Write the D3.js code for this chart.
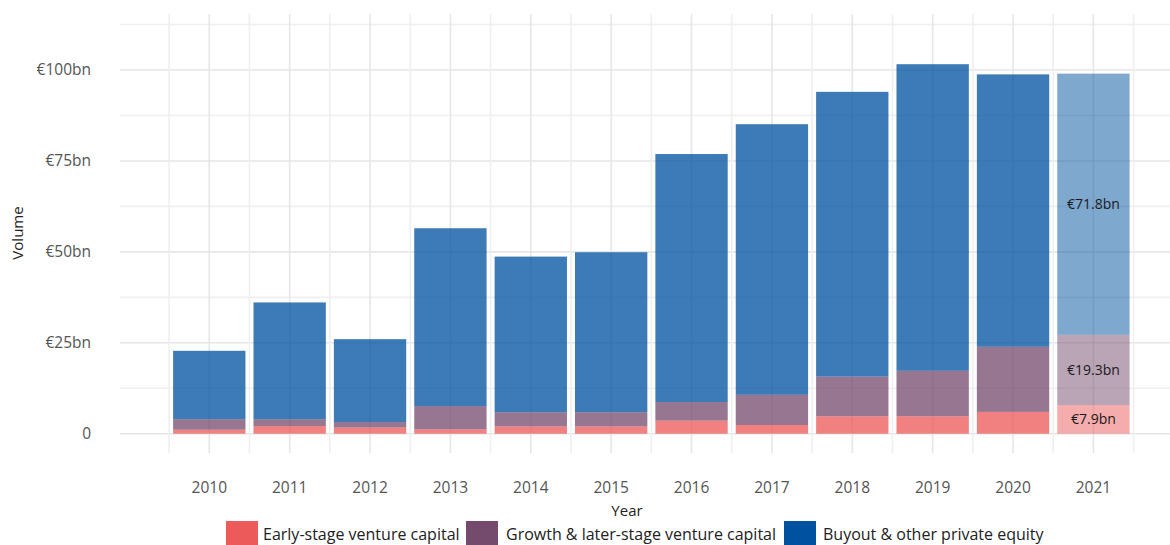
<!DOCTYPE html>
<html>
<head>
<meta charset="utf-8">
<script src="https://cdn.jsdelivr.net/npm/d3@7"></script>
<style>
  html, body { margin: 0; padding: 0; background: #fff; }
  svg { display: block; font-family: "Open Sans", "DejaVu Sans", sans-serif; }
</style>
</head>
<body>
<svg id="chart" width="1170" height="545"></svg>
<script>
// ---- data ----
const years = ["2010","2011","2012","2013","2014","2015","2016","2017","2018","2019","2020","2021"];
const earlyStage = [1.1, 2.1, 1.7, 1.2, 2.0, 2.0, 3.6, 2.4, 4.8, 4.8, 6.0, 7.9];
const growthStage = [2.9, 1.9, 1.5, 6.4, 3.9, 3.9, 5.1, 8.3, 10.9, 12.5, 17.9, 19.3];
const buyout = [18.8, 32.1, 22.8, 48.9, 42.8, 44.0, 68.2, 74.4, 78.3, 84.3, 74.9, 71.8];
const seriesNames = ["Early-stage venture capital", "Growth & later-stage venture capital", "Buyout & other private equity"];
const seriesColors = ["#ec5a5a", "#754b6d", "#0051a0"];
const yTickValues = [0, 25, 50, 75, 100];
const yTickLabels = ["0", "€25bn", "€50bn", "€75bn", "€100bn"];
const labelledYear = "2021";
const labelTexts = ["€7.9bn", "€19.3bn", "€71.8bn"];

// ---- build ----
const svg = d3.select("#chart");
const panel = {left: 120, right: 1170, top: 14, bottom: 453};

const x = d3.scaleBand().domain(years).range([169.1, 1133.6]).paddingInner(0.1).paddingOuter(0.05);
const y = d3.scaleLinear().domain([-5.3, 115.4]).range([panel.bottom, panel.top]);

const rows = years.map((yr, i) => ({year: yr, s0: earlyStage[i], s1: growthStage[i], s2: buyout[i]}));
const stack = d3.stack().keys(["s0", "s1", "s2"]);
const stacked = stack(rows);

// gridlines
const grid = svg.append("g");
const minorY = d3.range(12.5, 115, 25);
grid.selectAll("line.hmin").data(minorY).join("line")
  .attr("x1", panel.left).attr("x2", panel.right)
  .attr("y1", d => y(d)).attr("y2", d => y(d))
  .attr("stroke", "#efefef").attr("stroke-width", 1.6);
grid.selectAll("line.hmaj").data(yTickValues).join("line")
  .attr("x1", panel.left).attr("x2", panel.right)
  .attr("y1", d => y(d)).attr("y2", d => y(d))
  .attr("stroke", "#e6e6e6").attr("stroke-width", 1.6);
const step = x.step();
const bounds = years.map(yv => x(yv) + x.bandwidth() / 2 - step / 2).concat([x(years[years.length - 1]) + x.bandwidth() / 2 + step / 2]);
grid.selectAll("line.vmin").data(bounds).join("line")
  .attr("x1", d => d).attr("x2", d => d)
  .attr("y1", panel.top).attr("y2", panel.bottom)
  .attr("stroke", "#efefef").attr("stroke-width", 1.6);
grid.selectAll("line.vmaj").data(years).join("line")
  .attr("x1", d => x(d) + x.bandwidth() / 2).attr("x2", d => x(d) + x.bandwidth() / 2)
  .attr("y1", panel.top).attr("y2", panel.bottom)
  .attr("stroke", "#e6e6e6").attr("stroke-width", 1.6);

// bars
const bars = svg.append("g");
stacked.forEach((layer, si) => {
  bars.selectAll(null).data(layer).join("rect")
    .attr("x", d => x(d.data.year))
    .attr("width", x.bandwidth())
    .attr("y", d => y(d[1]))
    .attr("height", d => y(d[0]) - y(d[1]))
    .attr("fill", seriesColors[si])
    .attr("fill-opacity", d => d.data.year === labelledYear ? 0.5 : 0.76);
});

// labels on the 2021 bar
const li = years.indexOf(labelledYear);
stacked.forEach((layer, si) => {
  const d = layer[li];
  svg.append("text")
    .attr("x", x(labelledYear) + x.bandwidth() / 2)
    .attr("y", y((d[0] + d[1]) / 2))
    .attr("dy", "0.35em")
    .attr("text-anchor", "middle")
    .attr("font-size", 14)
    .attr("fill", "#1a1a1a")
    .text(labelTexts[si]);
});

// y axis
const yAxis = d3.axisLeft(y).tickValues(yTickValues).tickFormat((d, i) => yTickLabels[i]).tickSize(0).tickPadding(0);
const ya = svg.append("g").attr("transform", "translate(91,0)").call(yAxis);
ya.select(".domain").remove();
ya.selectAll("text").attr("font-size", 15.5).attr("fill", "#555").attr("font-family", "'Open Sans', sans-serif");

// x axis
const xAxis = d3.axisBottom(x).tickSize(0).tickPadding(0);
const xa = svg.append("g").attr("transform", "translate(0,482)").call(xAxis);
xa.select(".domain").remove();
xa.selectAll("text").attr("font-size", 15.5).attr("fill", "#555").attr("font-family", "'Open Sans', sans-serif");

// axis titles
svg.append("text").attr("x", 627).attr("y", 516).attr("text-anchor", "middle")
  .attr("font-size", 15).attr("fill", "#222").text("Year");
svg.append("text").attr("transform", "translate(23,233) rotate(-90)").attr("text-anchor", "middle")
  .attr("font-size", 15).attr("fill", "#222").text("Volume");

// legend
const legendItems = [
  {name: seriesNames[0], color: seriesColors[0], sx: 226, tx: 263},
  {name: seriesNames[1], color: seriesColors[1], sx: 466, tx: 506},
  {name: seriesNames[2], color: seriesColors[2], sx: 784, tx: 823}
];
const lg = svg.append("g");
legendItems.forEach(it => {
  lg.append("rect").attr("x", it.sx).attr("y", 521).attr("width", 32).attr("height", 24).attr("fill", it.color);
  lg.append("text").attr("x", it.tx).attr("y", 534).attr("dy", "0.35em").attr("font-size", 16).attr("fill", "#222").text(it.name);
});
</script>
</body>
</html>
